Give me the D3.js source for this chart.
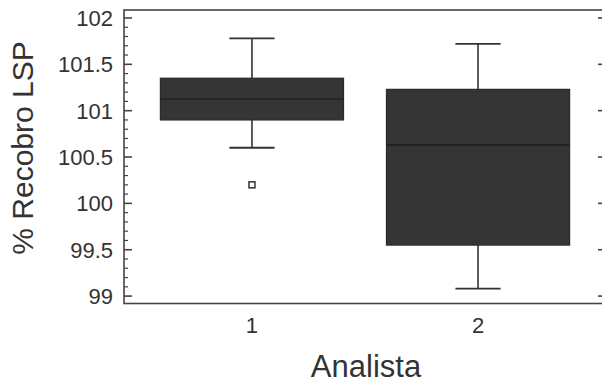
<!DOCTYPE html>
<html>
<head>
<meta charset="utf-8">
<script src="https://cdn.jsdelivr.net/npm/d3@7"></script>
<style>
  html, body { margin: 0; padding: 0; background: #fff; }
  svg { display: block; }
  text { font-family: "Liberation Sans", Arial, sans-serif; fill: #333; }
</style>
</head>
<body>
<svg id="chart" width="602" height="383"></svg>
<script>
// Box-plot summaries per analyst
const analysts = [1, 2];
const whiskerLow  = [100.60, 99.08];
const q1          = [100.90, 99.55];
const median      = [101.125, 100.63];
const q3          = [101.35, 101.23];
const whiskerHigh = [101.78, 101.72];
const outliers    = [[100.20], []];
const yTicks      = [99, 99.5, 100, 100.5, 101, 101.5, 102];

const svg = d3.select("#chart");
const frame = { left: 124, right: 606, top: 10, bottom: 303.5 };

const x = d3.scaleLinear().domain([0.434, 2.566]).range([frame.left, frame.right]);
const y = d3.scaleLinear().domain([98.92, 102.086]).range([frame.bottom, frame.top]);

const boxHalf = x(1.405) - x(1);
const capHalf = x(1.1) - x(1);

// Frame
svg.append("rect")
  .attr("x", frame.left).attr("y", frame.top)
  .attr("width", frame.right - frame.left).attr("height", frame.bottom - frame.top)
  .attr("fill", "none").attr("stroke", "#444").attr("stroke-width", 1.6);

// Minor and major ticks (inward) on left and right edges
const minor = d3.range(990, 1021).map(v => v / 10).filter(v => !yTicks.includes(v));
const tickG = svg.append("g").attr("stroke", "#444");
[[frame.left, 1], [frame.right, -1]].forEach(([ex, dir]) => {
  tickG.selectAll(null).data(yTicks).enter().append("line")
    .attr("x1", ex).attr("x2", ex + dir * 8)
    .attr("y1", d => y(d)).attr("y2", d => y(d))
    .attr("stroke-width", 1.6);
  tickG.selectAll(null).data(minor).enter().append("line")
    .attr("x1", ex).attr("x2", ex + dir * 4)
    .attr("y1", d => y(d)).attr("y2", d => y(d))
    .attr("stroke-width", 1.2);
});

// Y tick labels
svg.append("g").selectAll("text").data(yTicks).enter().append("text")
  .attr("x", 113).attr("y", d => y(d))
  .attr("dy", "0.36em")
  .attr("text-anchor", "end")
  .attr("font-size", 22)
  .text(d => d);

// X tick labels
svg.append("g").selectAll("text").data(analysts).enter().append("text")
  .attr("x", d => x(d)).attr("y", 333)
  .attr("text-anchor", "middle")
  .attr("font-size", 22)
  .text(d => d);

// Axis titles
svg.append("text")
  .attr("x", 366).attr("y", 377)
  .attr("text-anchor", "middle")
  .attr("font-size", 31)
  .text("Analista");

svg.append("text")
  .attr("transform", "translate(33,148) rotate(-90)")
  .attr("text-anchor", "middle")
  .attr("font-size", 30)
  .text("% Recobro LSP");

// Boxes
const boxes = svg.append("g").selectAll("g").data(analysts).enter().append("g");

boxes.append("line")
  .attr("x1", d => x(d)).attr("x2", d => x(d))
  .attr("y1", (d, i) => y(whiskerHigh[i])).attr("y2", (d, i) => y(whiskerLow[i]))
  .attr("stroke", "#333").attr("stroke-width", 1.6);

boxes.selectAll(".cap").data((d, i) => [[d, whiskerLow[i]], [d, whiskerHigh[i]]]).enter()
  .append("line")
  .attr("x1", c => x(c[0]) - capHalf).attr("x2", c => x(c[0]) + capHalf)
  .attr("y1", c => y(c[1])).attr("y2", c => y(c[1]))
  .attr("stroke", "#333").attr("stroke-width", 1.8);

boxes.append("rect")
  .attr("x", d => x(d) - boxHalf)
  .attr("width", boxHalf * 2)
  .attr("y", (d, i) => y(q3[i]))
  .attr("height", (d, i) => y(q1[i]) - y(q3[i]))
  .attr("fill", "#353535").attr("stroke", "#2a2a2a").attr("stroke-width", 1.2);

boxes.append("line")
  .attr("x1", d => x(d) - boxHalf).attr("x2", d => x(d) + boxHalf)
  .attr("y1", (d, i) => y(median[i])).attr("y2", (d, i) => y(median[i]))
  .attr("stroke", "#1c1c1c").attr("stroke-width", 1.4);

boxes.selectAll(".out").data((d, i) => outliers[i].map(v => [d, v])).enter()
  .append("rect")
  .attr("x", o => x(o[0]) - 3).attr("y", o => y(o[1]) - 3)
  .attr("width", 6).attr("height", 6)
  .attr("fill", "#fff").attr("stroke", "#333").attr("stroke-width", 1.5);
</script>
</body>
</html>
